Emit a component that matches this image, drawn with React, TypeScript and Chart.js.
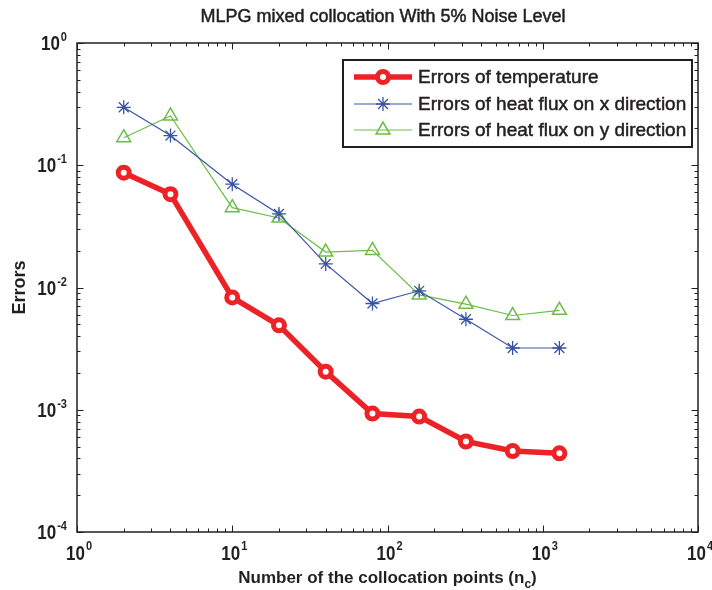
import React, { useEffect, useRef } from 'react';
import { Chart, registerables } from 'chart.js';

Chart.register(...registerables);

// ---- data ----
const xValues = [2, 4, 10, 20, 40, 80, 160, 320, 640, 1280];
const tempErrors = [0.087, 0.058, 0.0083, 0.0049, 0.00205, 0.00093, 0.00088, 0.00055, 0.00046, 0.00044];
const fluxXErrors = [0.298, 0.175, 0.07, 0.04, 0.0156, 0.0074, 0.0094, 0.0055, 0.0032, 0.0032];
const fluxYErrors = [0.168, 0.253, 0.045, 0.037, 0.0195, 0.0201, 0.0087, 0.0073, 0.0059, 0.0065];
const seriesLabels = [
  'Errors of temperature',
  'Errors of heat flux on x direction',
  'Errors of heat flux on y direction',
];
const xTickExponents = [0, 1, 2, 3, 4];
const yTickExponents = [0, -1, -2, -3, -4];
const titleText = 'MLPG mixed collocation With 5% Noise Level';
const xTitleMain = 'Number of the collocation points (n';
const xTitleSub = 'c';
const xTitleEnd = ')';
const yTitleText = 'Errors';

const RED = '#ec2227';
const BLUE = '#3a54a5';
const GREEN = '#6cbd45';
const INK = '#231f20';

function drawPower(ctx: CanvasRenderingContext2D, anchorX: number, baseY: number, exp: number, align: 'right' | 'center', supDy: number) {
  const sx = 0.85;
  ctx.save();
  ctx.fillStyle = INK;
  ctx.textBaseline = 'alphabetic';
  ctx.textAlign = 'left';
  ctx.font = 'bold 20px "Liberation Sans", Arial, sans-serif';
  const wBase = ctx.measureText('10').width * sx;
  ctx.font = 'bold 13px "Liberation Sans", Arial, sans-serif';
  const supText = String(exp);
  const wSup = ctx.measureText(supText).width * sx;
  const total = wBase + 1 + wSup;
  const left = align === 'right' ? anchorX - total : anchorX - total / 2;
  ctx.save();
  ctx.translate(left, baseY);
  ctx.scale(sx, 1);
  ctx.font = 'bold 20px "Liberation Sans", Arial, sans-serif';
  ctx.fillText('10', 0, 0);
  ctx.restore();
  ctx.save();
  ctx.translate(left + wBase + 1, baseY + supDy);
  ctx.scale(sx, 1);
  ctx.font = 'bold 13px "Liberation Sans", Arial, sans-serif';
  ctx.fillText(supText, 0, 0);
  ctx.restore();
  ctx.restore();
}

function heavyText(ctx: CanvasRenderingContext2D, text: string, x: number, y: number, w: number) {
  ctx.fillText(text, x, y);
  ctx.save();
  ctx.strokeStyle = ctx.fillStyle as string;
  ctx.lineWidth = w;
  ctx.lineJoin = 'round';
  ctx.strokeText(text, x, y);
  ctx.restore();
}

function drawMarker(ctx: CanvasRenderingContext2D, style: string, x: number, y: number, r: number, color: string, bw: number, fill: string) {
  ctx.save();
  ctx.strokeStyle = color;
  ctx.lineWidth = bw;
  ctx.fillStyle = fill;
  ctx.beginPath();
  if (style === 'circle') {
    ctx.arc(x, y, r, 0, Math.PI * 2);
    ctx.fill();
    ctx.stroke();
  } else if (style === 'star') {
    for (let a = 0; a < 4; a++) {
      const ang = (a * Math.PI) / 4;
      ctx.moveTo(x + Math.cos(ang) * r, y + Math.sin(ang) * r);
      ctx.lineTo(x - Math.cos(ang) * r, y - Math.sin(ang) * r);
    }
    ctx.stroke();
  } else if (style === 'triangle') {
    let rad = 0;
    ctx.moveTo(x + Math.sin(rad) * r, y - Math.cos(rad) * r);
    rad += (2 * Math.PI) / 3;
    ctx.lineTo(x + Math.sin(rad) * r, y - Math.cos(rad) * r);
    rad += (2 * Math.PI) / 3;
    ctx.lineTo(x + Math.sin(rad) * r, y - Math.cos(rad) * r);
    ctx.closePath();
    ctx.stroke();
  }
  ctx.restore();
}

const overlayPlugin = {
  id: 'matlabOverlay',
  afterDraw(chart: any) {
    const ctx: CanvasRenderingContext2D = chart.ctx;
    const area = chart.chartArea;
    const xs = chart.scales.x;
    const ys = chart.scales.y;

    ctx.save();
    // ticks (inward, all four sides)
    ctx.strokeStyle = INK;
    ctx.lineWidth = 1;
    ctx.beginPath();
    for (let e = xTickExponents[0]; e <= xTickExponents[xTickExponents.length - 1]; e++) {
      for (let k = 1; k <= 9; k++) {
        const v = k * Math.pow(10, e);
        if (v > xs.max * 1.0001) continue;
        const px = Math.round(xs.getPixelForValue(v)) + 0.5;
        const len = k === 1 ? 6.5 : 3.5;
        ctx.moveTo(px, area.bottom);
        ctx.lineTo(px, area.bottom - len);
        ctx.moveTo(px, area.top);
        ctx.lineTo(px, area.top + len);
      }
    }
    for (let e = yTickExponents[yTickExponents.length - 1]; e <= yTickExponents[0]; e++) {
      for (let k = 1; k <= 9; k++) {
        const v = k * Math.pow(10, e);
        if (v > ys.max * 1.0001) continue;
        const py = Math.round(ys.getPixelForValue(v)) + 0.5;
        const len = k === 1 ? 6.5 : 3.5;
        ctx.moveTo(area.left, py);
        ctx.lineTo(area.left + len, py);
        ctx.moveTo(area.right, py);
        ctx.lineTo(area.right - len, py);
      }
    }
    ctx.stroke();

    // frame
    ctx.lineWidth = 1.5;
    ctx.strokeRect(area.left, area.top, area.right - area.left, area.bottom - area.top);

    // tick labels
    xTickExponents.forEach((e) => {
      const px = xs.getPixelForValue(Math.pow(10, e));
      drawPower(ctx, px + 2, area.bottom + 28, e, 'center', -10);
    });
    yTickExponents.forEach((e) => {
      const py = ys.getPixelForValue(Math.pow(10, e));
      drawPower(ctx, area.left - 10, py + 7, e, 'right', -9);
    });

    // title
    ctx.fillStyle = INK;
    ctx.font = '18px "Liberation Sans", Arial, sans-serif';
    ctx.textAlign = 'center';
    ctx.textBaseline = 'middle';
    heavyText(ctx, titleText, 383, 17, 0.5);

    // x title with subscript
    ctx.textBaseline = 'alphabetic';
    ctx.textAlign = 'left';
    ctx.font = 'bold 17px "Liberation Sans", Arial, sans-serif';
    const w1 = ctx.measureText(xTitleMain).width;
    const w3 = ctx.measureText(xTitleEnd).width;
    ctx.font = 'bold 12px "Liberation Sans", Arial, sans-serif';
    const w2 = ctx.measureText(xTitleSub).width;
    const cx = (area.left + area.right) / 2;
    const sx0 = cx - (w1 + w2 + w3) / 2;
    const base = 583;
    ctx.font = 'bold 17px "Liberation Sans", Arial, sans-serif';
    ctx.fillText(xTitleMain, sx0, base);
    ctx.font = 'bold 12px "Liberation Sans", Arial, sans-serif';
    ctx.fillText(xTitleSub, sx0 + w1, base + 5);
    ctx.font = 'bold 17px "Liberation Sans", Arial, sans-serif';
    ctx.fillText(xTitleEnd, sx0 + w1 + w2, base);

    // y title
    ctx.save();
    ctx.translate(20, (area.top + area.bottom) / 2);
    ctx.rotate(-Math.PI / 2);
    ctx.textAlign = 'center';
    ctx.textBaseline = 'middle';
    ctx.font = 'bold 18px "Liberation Sans", Arial, sans-serif';
    ctx.fillText(yTitleText, 0, 0);
    ctx.restore();

    // legend
    const lx0 = 343, ly0 = 60, lx1 = 692, ly1 = 147;
    ctx.fillStyle = '#ffffff';
    ctx.fillRect(lx0, ly0, lx1 - lx0, ly1 - ly0);
    ctx.strokeStyle = INK;
    ctx.lineWidth = 2;
    ctx.strokeRect(lx0, ly0, lx1 - lx0, ly1 - ly0);
    const rows = [77, 104, 130];
    chart.data.datasets.forEach((ds: any, i: number) => {
      const y = rows[i];
      ctx.save();
      ctx.strokeStyle = ds.borderColor;
      ctx.lineWidth = ds.borderWidth;
      ctx.beginPath();
      ctx.moveTo(354, y);
      ctx.lineTo(412, y);
      ctx.stroke();
      ctx.restore();
      drawMarker(ctx, ds.pointStyle, 383, y, ds.pointRadius, ds.borderColor, ds.pointBorderWidth, ds.pointBackgroundColor);
      ctx.fillStyle = INK;
      ctx.font = '19px "Liberation Sans", Arial, sans-serif';
      ctx.textAlign = 'left';
      ctx.textBaseline = 'middle';
      heavyText(ctx, ds.label, 418, y + 1, 0.5);
    });
    ctx.restore();
  },
};

export default function App() {
  const canvasRef = useRef<HTMLCanvasElement | null>(null);

  useEffect(() => {
    const canvas = canvasRef.current;
    if (!canvas) return;
    const mk = (ys: number[]) => xValues.map((x, i) => ({ x, y: ys[i] }));
    const chart = new Chart(canvas, {
      type: 'line',
      data: {
        datasets: [
          {
            label: seriesLabels[0],
            data: mk(tempErrors),
            borderColor: RED,
            borderWidth: 5.5,
            pointStyle: 'circle',
            pointRadius: 5.5,
            pointBorderWidth: 5,
            pointBackgroundColor: '#ffffff',
            pointBorderColor: RED,
            tension: 0,
          },
          {
            label: seriesLabels[1],
            data: mk(fluxXErrors),
            borderColor: BLUE,
            borderWidth: 1.2,
            pointStyle: 'star',
            pointRadius: 7,
            pointBorderWidth: 1.3,
            pointBackgroundColor: BLUE,
            pointBorderColor: BLUE,
            tension: 0,
          },
          {
            label: seriesLabels[2],
            data: mk(fluxYErrors),
            borderColor: GREEN,
            borderWidth: 1.2,
            pointStyle: 'triangle',
            pointRadius: 8,
            pointBorderWidth: 1.5,
            pointBackgroundColor: 'rgba(0,0,0,0)',
            pointBorderColor: GREEN,
            tension: 0,
          },
        ],
      },
      options: {
        animation: false,
        responsive: false,
        devicePixelRatio: 1,
        layout: { padding: { left: 77, top: 43, right: 14, bottom: 58 } },
        plugins: {
          legend: { display: false },
          title: { display: false },
          tooltip: { enabled: false },
        },
        scales: {
          x: { type: 'logarithmic', min: 1, max: 10000, display: false },
          y: { type: 'logarithmic', min: 0.0001, max: 1, display: false },
        },
      },
      plugins: [overlayPlugin],
    });
    return () => chart.destroy();
  }, []);

  return (
    <div style={{ position: 'fixed', left: 0, top: 0, width: 712, height: 590, background: '#ffffff' }}>
      <canvas ref={canvasRef} width={712} height={590} style={{ width: 712, height: 590, display: 'block' }} />
    </div>
  );
}
